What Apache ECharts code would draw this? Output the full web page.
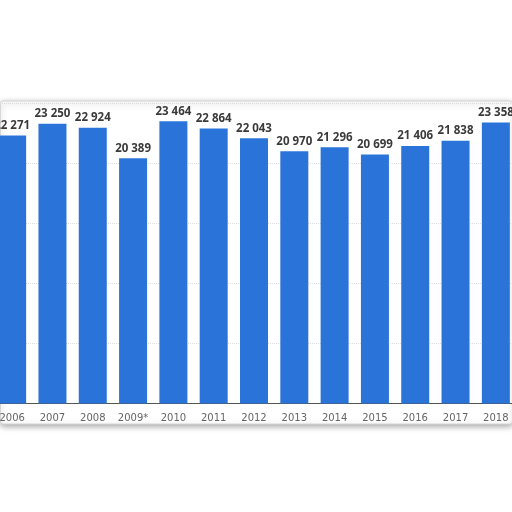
<!DOCTYPE html>
<html>
<head>
<meta charset="utf-8">
<script src="https://cdn.jsdelivr.net/npm/echarts@6/dist/echarts.min.js"></script>
<style>
html,body{margin:0;padding:0;background:#fff;overflow:hidden;width:512px;height:512px;}
#c{position:absolute;left:-8.45px;top:0;width:524px;height:512px;}
</style>
</head>
<body>
<div id="c"></div>
<script>
const categories = ['2006','2007','2008','2009*','2010','2011','2012','2013','2014','2015','2016','2017','2018'];
const values = [22271,23250,22924,20389,23464,22864,22043,20970,21296,20699,21406,21838,23358];
const yTicks = [0,5000,10000,15000,20000,25000];

const chart = echarts.init(document.getElementById('c'));
const fmt = v => String(v).replace(/\B(?=(\d{3})+(?!\d))/g, ' ');
chart.setOption({
  animation: false,
  backgroundColor: 'transparent',
  graphic: [{
    type: 'rect', z: -10, silent: true,
    shape: { x: 8.45, y: 101, width: 512, height: 323, r: 3 },
    style: { fill: '#fff', stroke: '#d6d6d6', lineWidth: 1,
      shadowBlur: 6, shadowColor: 'rgba(0,0,0,0.35)', shadowOffsetY: 2 }
  }],
  grid: { left: 0, right: 0, top: 102.75, bottom: 108.5, containLabel: false },
  xAxis: {
    type: 'category', data: categories,
    axisLine: { show: true, lineStyle: { color: '#555', width: 1 } },
    axisTick: { show: false },
    axisLabel: { color: '#666', fontFamily: 'DejaVu Sans', fontSize: 10, margin: 10, interval: 0 }
  },
  yAxis: {
    type: 'value', min: yTicks[0], max: yTicks[yTicks.length-1], interval: 5000,
    axisLabel: { show: false }, axisLine: { show: false }, axisTick: { show: false },
    splitLine: { show: true, lineStyle: { color: '#ddd', type: 'dotted', width: 1 } }
  },
  series: [{
    type: 'bar', data: values, barWidth: 28,
    itemStyle: { color: '#2a74d9' },
    label: { show: true, position: 'top', distance: 4, color: '#3a3a3a',
      fontFamily: 'Noto Sans', fontWeight: 'bold', fontSize: 11.5,
      formatter: p => fmt(p.value) }
  }]
});
</script>
</body>
</html>
